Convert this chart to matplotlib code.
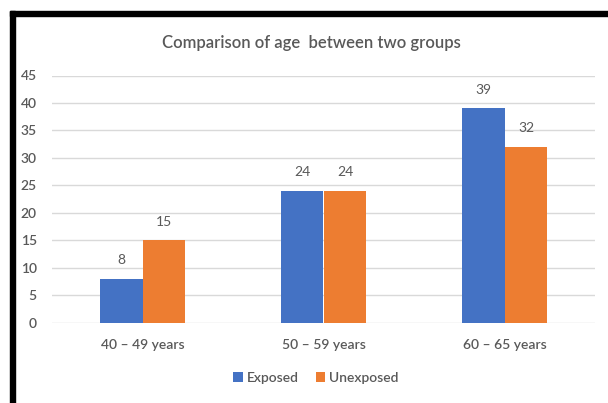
import matplotlib
matplotlib.use("Agg")
import matplotlib.pyplot as plt
import numpy as np
from matplotlib.patches import Rectangle

categories = ["40 – 49 years", "50 – 59 years", "60 – 65 years"]
exposed = [8, 24, 39]
unexposed = [15, 24, 32]
yticks = [0, 5, 10, 15, 20, 25, 30, 35, 40, 45]
title = "Comparison of age  between two groups"

plt.rcParams['font.family'] = ['Lato', 'DejaVu Sans']
txt = '#595959'

fig = plt.figure(figsize=(6.08, 4.03), dpi=100)
ax = fig.add_axes([52/608, 1-322.5/403, 543/608, 247/403])

x = np.arange(len(categories))
w = 0.237
b1 = ax.bar(x - w/2, exposed, w, color='#4472C4', label='Exposed', zorder=3)
b2 = ax.bar(x + w/2, unexposed, w, color='#ED7D31', label='Unexposed', zorder=3)
for bars, vals in ((b1, exposed), (b2, unexposed)):
    for r, v in zip(bars, vals):
        ax.annotate(str(v), (r.get_x() + r.get_width()/2, v), xytext=(0, 9),
                    textcoords='offset points', ha='center', va='bottom',
                    fontsize=10, color=txt)

ax.set_xlim(-0.5, 2.5)
ax.set_ylim(0, 45)
ax.set_yticks(yticks)
ax.set_yticklabels([str(t) for t in yticks], fontsize=10, color=txt, fontweight='semibold')
ax.set_xticks(x)
ax.set_xticklabels(categories, fontsize=10, color=txt, fontweight='semibold')
ax.tick_params(axis='both', length=0)
ax.tick_params(axis='y', pad=11)
ax.tick_params(axis='x', pad=12)
ax.grid(axis='y', color='#D9D9D9', linewidth=1, zorder=0)
for s in ax.spines.values():
    s.set_visible(False)

fig.text(311/608, 1-43/403, title, ha='center', va='center', fontsize=12,
         color=txt, fontweight='semibold')
fig.legend(handles=[b1, b2], loc='center', bbox_to_anchor=(316/608, 1-378/403),
           ncol=2, frameon=False, prop={'size': 10, 'weight': 'semibold'}, labelcolor=txt,
           handlelength=0.7, handleheight=0.7, handletextpad=0.3, columnspacing=1.2)

# black frame
fig.patches.append(Rectangle((10/608, 0), 5/608, (403-11)/403, transform=fig.transFigure,
                             color='black', zorder=10))
fig.patches.append(Rectangle((10/608, 1-16/403), 1, 5/403, transform=fig.transFigure,
                             color='black', zorder=10))

fig.savefig('out.png', dpi=100)
